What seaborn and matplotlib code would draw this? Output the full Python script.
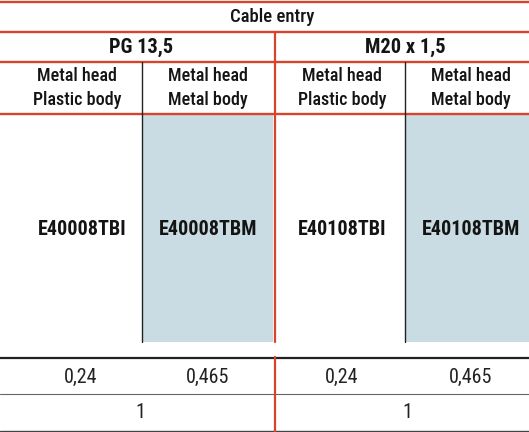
import matplotlib
matplotlib.use("Agg")
import matplotlib.pyplot as plt
import seaborn as sns
from matplotlib import font_manager

sns.set_theme(style="white")
names = {f.name for f in font_manager.fontManager.ttflist}
fam = [n for n in ["Liberation Sans Narrow", "Roboto Condensed", "DejaVu Sans Condensed", "Liberation Sans"] if n in names] + ["DejaVu Sans"]
plt.rcParams['font.family'] = fam

title = "Cable entry"
groups = ["PG 13,5", "M20 x 1,5"]
materials = ["Metal head\nPlastic body", "Metal head\nMetal body", "Metal head\nPlastic body", "Metal head\nMetal body"]
codes = ["E40008TBI", "E40008TBM", "E40108TBI", "E40108TBM"]
weights = ["0,24", "0,465", "0,24", "0,465"]
packs = ["1", "1"]
shaded = [False, True, False, True]

W, H = 529, 432
fig = plt.figure(figsize=(W / 100, H / 100), dpi=100)
ax = fig.add_axes([0, 0, 1, 1])
ax.set_xlim(0, W)
ax.set_ylim(H, 0)
ax.axis("off")

red = "#d8432b"
blue = "#c9dbe3"
ink = "#141414"
col_edges = [0, 142, 275, 405, 529]
centers = [79, 208, 342, 471]

# shaded cells
for i, s in enumerate(shaded):
    if s:
        x0 = col_edges[i]
        x1 = col_edges[i + 1] - (2 if i == 1 else 0)
        ax.add_patch(plt.Rectangle((x0, 114), x1 - x0, 228, color=blue, lw=0, zorder=0))

# horizontal lines
for y in [2, 32, 62, 114]:
    ax.plot([0, W], [y, y], color=red, lw=1.7, solid_capstyle="butt")
ax.plot([0, W], [357.5, 357.5], color="#222222", lw=1.6)
ax.plot([0, W], [394, 394], color="#666666", lw=0.8)
ax.plot([0, W], [430.5, 430.5], color="#444444", lw=1.0)

# vertical lines
ax.plot([275, 275], [32, 342], color=red, lw=1.6)
ax.plot([275, 275], [357, H], color=red, lw=1.6)
for x in [142, 405]:
    ax.plot([x, x], [62, 342], color="#222222", lw=1.0)

# texts
ax.text(272.5, 17, title, ha="center", va="center", fontsize=13.5, fontweight="medium", color=ink)
for g, c in zip(groups, [141, 405]):
    ax.text(c, 47, g, ha="center", va="center", fontsize=14.7, fontweight="bold", color=ink)
for m, c in zip(materials, centers):
    l1, l2 = m.split("\n")
    ax.text(c - 2 if c == 79 else c, 76, l1, ha="center", va="center", fontsize=13, fontweight="medium", color=ink)
    ax.text(c - 2 if c == 79 else c, 100, l2, ha="center", va="center", fontsize=13, fontweight="medium", color=ink)
for cd, c in zip(codes, centers):
    ax.text(c + 3 if c == 79 else c, 229.5, cd, ha="center", va="center", fontsize=14.5, fontweight="bold", color=ink)
for w, c in zip(weights, centers):
    ax.text(c + 2 if c == 79 else c, 377, w, ha="center", va="center", fontsize=14.5, color="#222222")
for p, c in zip(packs, [140, 407]):
    ax.text(c, 412, p, ha="center", va="center", fontsize=14.5, color="#222222")

fig.savefig("out.png", dpi=100)
